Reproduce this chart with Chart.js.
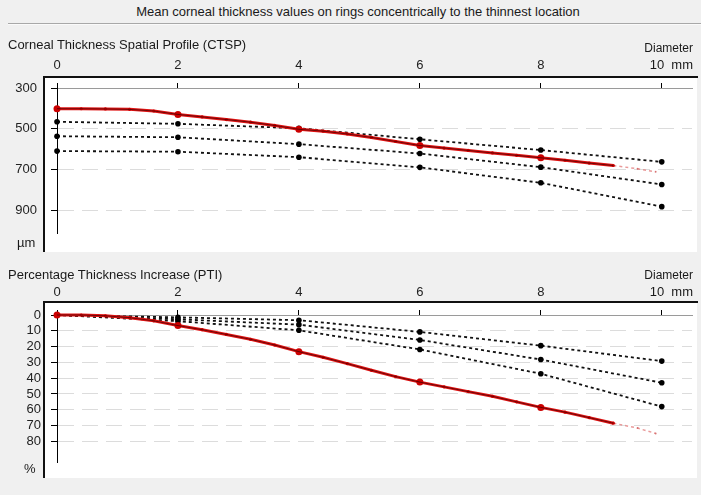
<!DOCTYPE html>
<html>
<head>
<meta charset="utf-8">
<script src="https://cdn.jsdelivr.net/npm/chart.js@4.4.0/dist/chart.umd.min.js"></script>
<style>
  body { margin: 0; background: #f0f0f0; font-family: "Liberation Sans", Arial, sans-serif; color: #1a1a1a; }
  #page { position: relative; width: 701px; height: 495px; overflow: hidden; background: #f0f0f0; }
  canvas { position: absolute; left: 0; }
  .txt { position: absolute; font-size: 13px; line-height: 16px; white-space: nowrap; }
  .small { font-size: 12px; }
  #sep { position: absolute; left: 8px; right: 0; top: 23px; height: 1px; background: #a8a8a8; border-bottom: 1px solid #fafafa; }
</style>
</head>
<body>
<div id="page">
  <canvas id="ctsp" width="701" height="225" style="top:30px"></canvas>
  <canvas id="pti" width="701" height="223" style="top:257px"></canvas>

  <div class="txt" style="left:0; width:716px; text-align:center; top:4px;">Mean corneal thickness values on rings concentrically to the thinnest location</div>
  <div id="sep"></div>

  <div class="txt" style="left:8px; top:37px;">Corneal Thickness Spatial Profile (CTSP)</div>
  <div class="txt small" style="right:8px; top:40px;">Diameter</div>
  <div class="txt" style="right:8px; top:57px;">10&nbsp;&nbsp;mm</div>
  <div class="txt" style="left:17px; top:235px;">µm</div>

  <div class="txt" style="left:8px; top:267px;">Percentage Thickness Increase (PTI)</div>
  <div class="txt small" style="right:8px; top:267px;">Diameter</div>
  <div class="txt" style="right:8px; top:284px;">10&nbsp;&nbsp;mm</div>
  <div class="txt" style="left:24px; top:461px;">%</div>
</div>

<script>
// ring diameters (mm) of the measured profile
const ringDiam = [0, 0.4, 0.8, 1.2, 1.6, 2, 2.4, 2.8, 3.2, 3.6, 4, 4.4, 4.8, 5.2, 5.6, 6, 6.4, 6.8, 7.2, 7.6, 8, 8.4, 8.8, 9.2, 9.6, 9.9];
// rings from this index on are extrapolated (faint)
const faintFrom = 24;

// CTSP (µm)
const ctspPatient = [402, 402, 403, 405, 413, 430, 442, 455, 468, 484, 503, 512, 526, 543, 563, 583, 595, 607, 619, 631, 643, 655, 669, 681, 697, 712];
const normDiam = [0, 2, 4, 6, 8, 10];
const ctspNormLow = [466, 476, 498, 552, 605, 663];
const ctspNormMid = [537, 542, 576, 622, 689, 774];
const ctspNormHigh = [610, 613, 640, 690, 766, 883];

// PTI (%)
const ptiPatient = [0, 0, 0.5, 1.7, 3.7, 6.7, 9.3, 12.3, 15.4, 19.0, 23.2, 26.8, 30.8, 35, 39, 42.5, 45.5, 48.5, 51.5, 55, 58.5, 61.5, 65, 68.5, 71.6, 75];
const ptiNormLow = [0, 1.5, 3.3, 10.7, 19.4, 29.2];
const ptiNormMid = [0, 2.7, 6.1, 15.8, 28.2, 42.9];
const ptiNormHigh = [0, 3.9, 9.7, 21.8, 37.2, 58];

// tick labels
const diamTicks = [0, 2, 4, 6, 8, 10];
const ctspTicks = [300, 500, 700, 900];
const ptiTicks = [0, 10, 20, 30, 40, 50, 60, 70, 80];

const fontFamily = '"Liberation Sans", Arial, sans-serif';

// white plot box with the thick black frame on top and left
const panelBox = {
    id: 'panelBox',
    beforeDraw(chart, args, opts) {
        const ctx = chart.ctx;
        ctx.save();
        ctx.fillStyle = '#fff';
        ctx.fillRect(45, opts.top, 652, opts.bottom - opts.top);
        ctx.fillStyle = '#111';
        ctx.fillRect(43, opts.top - 2, 655, 2);
        ctx.fillRect(43, opts.top - 2, 2, opts.bottom - opts.top + 2);
        ctx.restore();
    }
};

function isMajor(c) {
    return c.raw && Number.isInteger(c.raw.x) && c.raw.x % 2 === 0;
}

function normSet(ys) {
    return {
        data: normDiam.map((x, i) => ({ x: x, y: ys[i] })),
        borderColor: '#111',
        borderWidth: 1.8,
        borderDash: [3, 3],
        pointRadius: 2.8,
        pointBackgroundColor: '#000',
        pointBorderWidth: 0,
        clip: false,
        order: 3
    };
}

function patientSets(ys) {
    const pts = ringDiam.map((x, i) => ({ x: x, y: ys[i] }));
    return [
        {
            data: pts,
            borderColor: '#e01212',
            borderWidth: 3,
            pointRadius: c => isMajor(c) ? 3.5 : (c.dataIndex >= faintFrom ? 1 : 1.6),
            pointBackgroundColor: c => c.dataIndex >= faintFrom ? 'rgba(200,70,70,0.6)' : '#cc0000',
            pointBorderWidth: 0,
            segment: {
                borderColor: c => c.p1DataIndex >= faintFrom ? 'rgba(225,120,120,0.75)' : undefined,
                borderWidth: c => c.p1DataIndex >= faintFrom ? 1.5 : undefined,
                borderDash: c => c.p1DataIndex >= faintFrom ? [3, 3] : undefined
            },
            clip: false,
            order: 2
        },
        {
            // dark core of the measured line
            data: pts.slice(0, faintFrom),
            borderColor: 'rgba(40,0,0,0.8)',
            borderWidth: 0.8,
            pointRadius: 0,
            clip: false,
            order: 1
        }
    ];
}

function makeOptions(yMin, yMax, yTicks, yPad, box) {
    return {
        animation: false,
        responsive: false,
        layout: { padding: { left: 0, right: 9, top: 0, bottom: 10 } },
        elements: { line: { tension: 0 } },
        plugins: {
            legend: { display: false },
            tooltip: { enabled: false },
            panelBox: box
        },
        scales: {
            x: {
                type: 'linear',
                position: 'top',
                min: 0,
                max: 10.5,
                afterFit: s => { s.height = 58; },
                afterBuildTicks: s => { s.ticks = diamTicks.map(v => ({ value: v })); },
                ticks: {
                    padding: 10,
                    color: '#222',
                    autoSkip: false,
                    maxRotation: 0,
                    font: { family: fontFamily, size: 13 },
                    callback: v => v === 10 ? '' : v
                },
                grid: { display: true, drawOnChartArea: false, drawTicks: true, tickLength: 5, tickColor: '#000' },
                border: { display: true, color: '#9a9a9a', width: 1 }
            },
            y: {
                type: 'linear',
                reverse: true,
                min: yMin,
                max: yMax,
                afterFit: s => { s.width = 57; },
                afterBuildTicks: s => { s.ticks = yTicks.map(v => ({ value: v })); },
                ticks: {
                    padding: yPad,
                    color: '#222',
                    autoSkip: false,
                    font: { family: fontFamily, size: 13 }
                },
                grid: {
                    color: c => c.index === 0 ? 'rgba(0,0,0,0)' : '#dcdcdc',
                    lineWidth: 1,
                    tickLength: 6,
                    tickColor: '#000',
                    tickBorderDash: []
                },
                border: { display: true, color: '#000', width: 1, dash: [16, 8] }
            }
        }
    };
}

new Chart(document.getElementById('ctsp').getContext('2d'), {
    type: 'line',
    data: {
        datasets: [
            ...patientSets(ctspPatient),
            normSet(ctspNormLow),
            normSet(ctspNormMid),
            normSet(ctspNormHigh)
        ]
    },
    options: makeOptions(300, 1013.6, ctspTicks, 14, { top: 48, bottom: 222 }),
    plugins: [panelBox]
});

new Chart(document.getElementById('pti').getContext('2d'), {
    type: 'line',
    data: {
        datasets: [
            ...patientSets(ptiPatient),
            normSet(ptiNormLow),
            normSet(ptiNormMid),
            normSet(ptiNormHigh)
        ]
    },
    options: makeOptions(0, 93.2, ptiTicks, 10, { top: 46, bottom: 221 }),
    plugins: [panelBox]
});
</script>
</body>
</html>
